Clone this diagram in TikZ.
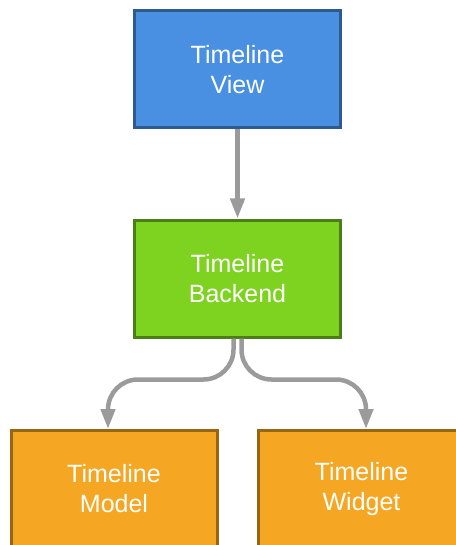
\documentclass[tikz,border=0pt]{standalone}
\usepackage{fontspec}
\setmainfont{Liberation Sans}
\usetikzlibrary{arrows.meta,calc}
\definecolor{viewblue}{HTML}{4A90E2}
\definecolor{viewline}{HTML}{2E5B8F}
\definecolor{backgreen}{HTML}{7ED321}
\definecolor{backline}{HTML}{4B7E16}
\definecolor{leaforange}{HTML}{F5A623}
\definecolor{leafline}{HTML}{966614}
\definecolor{arrowgray}{HTML}{9B9B9B}
\tikzset{
  block/.style={draw, line width=3pt, minimum width=206pt, minimum height=117pt,
    text=white, align=center, font=\fontsize{25}{30}\selectfont},
  flow/.style={draw=arrowgray, line width=4.5pt, -{Triangle[length=20pt,width=14pt]}}
}
\begin{document}
\begin{tikzpicture}[x=1pt,y=-1pt]
\useasboundingbox (0,0) rectangle (455,545);

\node[block, fill=viewblue, draw=viewline] (view) at (237.5,69.5) {Timeline\\View};
\node[block, fill=backgreen, draw=backline] (backend) at (237.5,278.5) {Timeline\\Backend};
\node[block, fill=leaforange, draw=leafline] (model) at (114,489) {Timeline\\Model};
\node[block, fill=leaforange, draw=leafline] (widget) at (361.5,489) {Timeline\\Widget};

\draw[flow] (view) -- (backend);
\draw[flow, rounded corners=30pt] ($(backend.south)+(-4,0)$) -- ++(0,41)
  -| ($(model.north)+(-6,0)$);
\draw[flow, rounded corners=30pt] ($(backend.south)+(4,0)$) -- ++(0,41)
  -| ($(widget.north)+(4.5,0)$);

\end{tikzpicture}
\end{document}
